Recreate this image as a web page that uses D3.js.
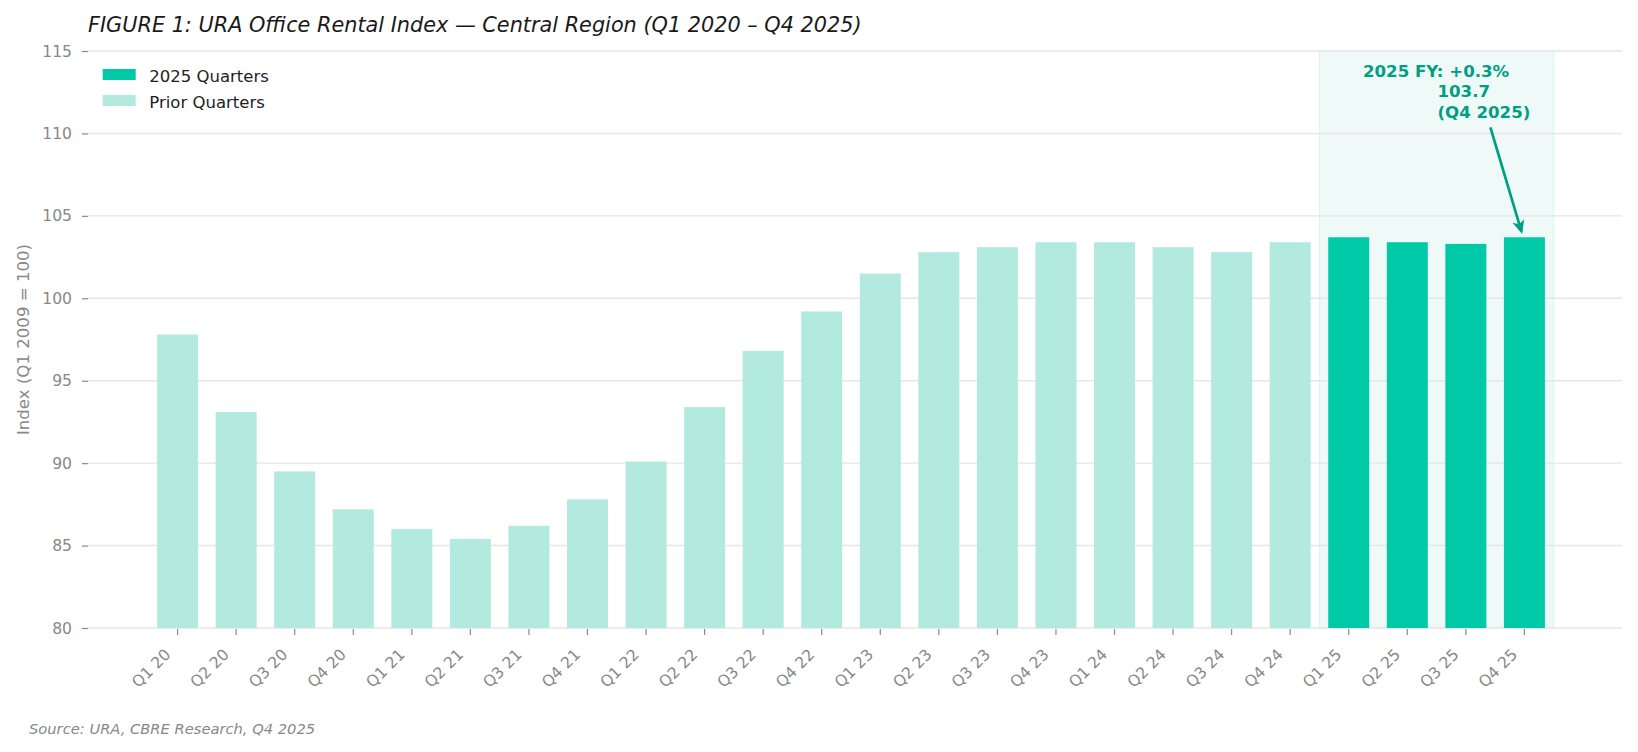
<html>
<head>
<script src="https://d3js.org/d3.v7.min.js"></script>
<style>
  body { margin: 0; background: #fff; }
  text { font-family: "DejaVu Sans", sans-serif; }
</style>
</head>
<body>
<script>
  // data
  const quarters = ["Q1 20", "Q2 20", "Q3 20", "Q4 20", "Q1 21", "Q2 21", "Q3 21", "Q4 21",
                    "Q1 22", "Q2 22", "Q3 22", "Q4 22", "Q1 23", "Q2 23", "Q3 23", "Q4 23",
                    "Q1 24", "Q2 24", "Q3 24", "Q4 24", "Q1 25", "Q2 25", "Q3 25", "Q4 25"];
  const indexValues = [97.8, 93.1, 89.5, 87.2, 86.0, 85.4, 86.2, 87.8,
                       90.1, 93.4, 96.8, 99.2, 101.5, 102.8, 103.1, 103.4,
                       103.4, 103.1, 102.8, 103.4, 103.7, 103.4, 103.3, 103.7];
  const recentQuarters = ["Q1 25", "Q2 25", "Q3 25", "Q4 25"];
  const yTicks = [80, 85, 90, 95, 100, 105, 110, 115];
  const legendLabels = ["2025 Quarters", "Prior Quarters"];
  const noteLines = ["2025 FY: +0.3%", "103.7", "(Q4 2025)"];

  const width = 1638, height = 752;
  const plotLeft = 88, plotRight = 1622, plotTop = 51, plotBottom = 628;
  const brightColor = "#00c9a7", paleColor = "#b3eae0", noteColor = "#009e82";

  let svg = d3.select("body").append("svg")
      .attr("width", width)
      .attr("height", height);

  let x = d3.scaleBand()
      .domain(quarters)
      .range([plotLeft, plotRight - 8])
      .paddingInner(0.3)
      .paddingOuter(1.18);

  let y = d3.scaleLinear()
      .domain([80, 115])
      .range([plotBottom, plotTop]);

  // title
  svg.append("text")
    .attr("x", 88)
    .attr("y", 31.5)
    .attr("font-size", 20.8)
    .attr("font-style", "italic")
    .attr("fill", "#1a1a1a")
    .text("FIGURE 1: URA Office Rental Index \u2014 Central Region (Q1 2020 \u2013 Q4 2025)");

  // 2025 shaded span
  let step = x.step();
  let spanX0 = x("Q1 25") - step * 0.15;
  let spanX1 = x("Q4 25") + x.bandwidth() + step * 0.15;
  svg.append("rect")
    .attr("x", spanX0)
    .attr("y", y(115))
    .attr("width", spanX1 - spanX0)
    .attr("height", y(80) - y(115))
    .attr("fill", "#eff9f7")
    .attr("stroke", "#dcf3ee")
    .attr("stroke-width", 1);

  // gridlines
  yTicks.forEach(t =>
    svg.append("line")
      .attr("x1", plotLeft)
      .attr("x2", plotRight)
      .attr("y1", y(t))
      .attr("y2", y(t))
      .attr("stroke", "#e6e6e6")
      .attr("stroke-width", 1.4)
  );

  // bars
  svg.append("g").selectAll("rect")
    .data(quarters)
    .join("rect")
      .attr("x", d => x(d))
      .attr("y", (d, i) => y(indexValues[i]))
      .attr("width", x.bandwidth())
      .attr("height", (d, i) => y(80) - y(indexValues[i]))
      .attr("fill", d => recentQuarters.includes(d) ? brightColor : paleColor);

  // y axis
  let yAxis = svg.append("g")
      .attr("transform", `translate(${plotLeft},0)`)
      .call(d3.axisLeft(y).tickValues(yTicks).tickSize(6).tickPadding(10));
  yAxis.select(".domain").remove();
  yAxis.selectAll(".tick line").attr("stroke", "#8a8a8a").attr("stroke-width", 1.2);
  yAxis.selectAll(".tick text")
    .attr("fill", "#888")
    .attr("font-size", 15.6)
    .attr("font-family", "DejaVu Sans");

  // x axis
  let xAxis = svg.append("g")
      .attr("transform", `translate(0,${plotBottom + 1})`)
      .call(d3.axisBottom(x).tickSize(6).tickSizeOuter(0));
  xAxis.select(".domain").remove();
  xAxis.selectAll(".tick line").attr("stroke", "#8a8a8a").attr("stroke-width", 1.2);
  xAxis.selectAll(".tick text")
    .attr("fill", "#888")
    .attr("font-size", 15.6)
    .attr("font-family", "DejaVu Sans")
    .attr("text-anchor", "end")
    .attr("x", 0)
    .attr("y", 0)
    .attr("dy", "0.35em")
    .attr("transform", "translate(-10,22.5) rotate(-45)");

  // y label
  svg.append("text")
    .attr("transform", `translate(22.7,${(plotTop + plotBottom) / 2}) rotate(-90)`)
    .attr("text-anchor", "middle")
    .attr("dy", "0.35em")
    .attr("font-size", 16.6)
    .attr("fill", "#888")
    .text("Index (Q1 2009 = 100)");

  // legend
  let legend = svg.append("g").attr("transform", "translate(102.7,69)");
  legendLabels.forEach((lab, i) => {
    legend.append("rect")
      .attr("x", 0)
      .attr("y", i * 26)
      .attr("width", 33)
      .attr("height", 11)
      .attr("fill", i == 0 ? brightColor : paleColor);
    legend.append("text")
      .attr("x", 46.6)
      .attr("y", i * 26 + 12.5)
      .attr("font-size", 16.5)
      .attr("fill", "#222")
      .text(lab);
  });

  // annotation arrow
  svg.append("defs").append("marker")
    .attr("id", "head")
    .attr("viewBox", "0 0 10 10")
    .attr("refX", 8)
    .attr("refY", 5)
    .attr("markerWidth", 5)
    .attr("markerHeight", 5)
    .attr("markerUnits", "strokeWidth")
    .attr("orient", "auto")
    .append("path")
      .attr("d", "M0,0.5 L10,5 L0,9.5 L2.5,5 Z")
      .attr("fill", noteColor);

  let tipX = x("Q4 25") + x.bandwidth() / 2 - 3;
  let tipY = y(103.7) - 6;
  svg.append("line")
    .attr("x1", tipX - 31)
    .attr("y1", tipY - 104)
    .attr("x2", tipX)
    .attr("y2", tipY)
    .attr("stroke", noteColor)
    .attr("stroke-width", 2.7)
    .attr("marker-end", "url(#head)");

  // annotation text
  let noteX = [1363, 1437.5, 1437.5];
  let noteY = [76.5, 97.2, 118];
  noteLines.forEach((t, i) =>
    svg.append("text")
      .attr("x", noteX[i])
      .attr("y", noteY[i])
      .attr("font-size", 16.6)
      .attr("font-weight", "bold")
      .attr("fill", noteColor)
      .text(t)
  );

  // source
  svg.append("text")
    .attr("x", 29)
    .attr("y", 734)
    .attr("font-size", 14.7)
    .attr("font-style", "italic")
    .attr("fill", "#888")
    .text("Source: URA, CBRE Research, Q4 2025");
</script>
</body>
</html>
